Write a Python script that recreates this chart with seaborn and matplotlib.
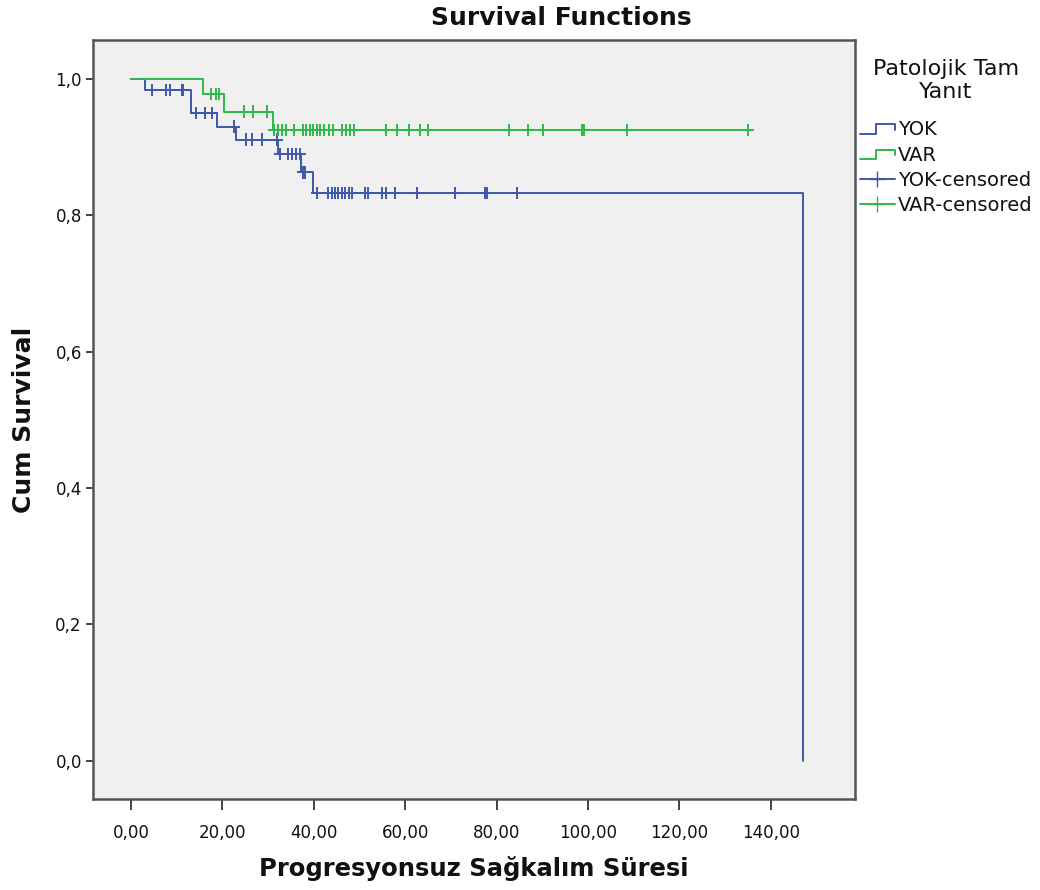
import numpy as np
import pandas as pd
import matplotlib
matplotlib.use("Agg")
import matplotlib.pyplot as plt
import seaborn as sns
from matplotlib.legend_handler import HandlerBase
from matplotlib.lines import Line2D
from matplotlib.ticker import FuncFormatter

# Step points of the Kaplan-Meier curves
yok_times = [0.0, 3.1, 13.1, 18.9, 23.0, 32.2, 37.3, 39.8, 147.0]
yok_surv = [1.0, 0.984, 0.950, 0.930, 0.911, 0.890, 0.863, 0.833, 0.0]
var_times = [0.0, 15.7, 20.4, 31.0, 135.0]
var_surv = [1.0, 0.978, 0.952, 0.925, 0.925]

# censored observations
yok_cens = [4.7, 7.7, 8.5, 11.1, 11.5, 14.2, 16.2, 17.7, 22.6, 25.2, 26.4, 28.6,
            31.9, 32.6, 34.4, 35.2, 36.1, 37.0, 37.7, 38.1, 40.8, 43.2, 43.9, 44.6,
            45.4, 46.1, 46.8, 47.6, 48.3, 51.2, 51.9, 54.9, 55.8, 57.8, 62.5, 71.0,
            77.4, 77.8, 84.5]
var_cens = [17.6, 18.7, 19.3, 24.8, 26.6, 29.7, 31.3, 32.2, 33.0, 33.9, 35.7, 37.7,
            38.4, 39.2, 39.9, 40.6, 41.4, 42.2, 43.4, 44.3, 46.1, 47.0, 47.9, 48.8,
            55.9, 58.3, 60.9, 63.2, 65.1, 82.8, 86.8, 90.1, 98.6, 99.1, 108.5, 135.0]

groups = ["YOK", "VAR"]
colors = {"YOK": "#3E58AC", "VAR": "#2EB848"}


def level_at(times, surv, t):
    idx = np.searchsorted(times, t, side="right") - 1
    return surv[idx]


curves = pd.concat([
    pd.DataFrame({"time": yok_times, "surv": yok_surv, "grp": "YOK"}),
    pd.DataFrame({"time": var_times, "surv": var_surv, "grp": "VAR"}),
])
cens = pd.concat([
    pd.DataFrame({"time": yok_cens, "surv": [level_at(yok_times, yok_surv, t) for t in yok_cens], "grp": "YOK"}),
    pd.DataFrame({"time": var_cens, "surv": [level_at(var_times, var_surv, t) for t in var_cens], "grp": "VAR"}),
])

sns.set_style("white")
plt.rcParams["font.family"] = ["DejaVu Sans"]
plt.rcParams["text.color"] = "#111111"

fig = plt.figure(figsize=(10.4, 8.9), dpi=100)
ax = fig.add_axes([0.0894, 0.1022, 0.7327, 0.8528])
ax.set_facecolor("#F0F0F0")

sns.lineplot(data=curves, x="time", y="surv", hue="grp", palette=colors,
             drawstyle="steps-post", estimator=None, sort=False, legend=False,
             linewidth=1.4, ax=ax)
sns.scatterplot(data=cens, x="time", y="surv", hue="grp", palette=colors,
                marker="+", s=80, linewidth=1.4, legend=False, ax=ax, zorder=3)

ax.set_xlim(-8.3, 158.4)
ax.set_ylim(-0.056, 1.057)
ax.set_xticks(np.arange(0, 141, 20))
ax.set_yticks(np.arange(0, 1.01, 0.2))
ax.xaxis.set_major_formatter(FuncFormatter(lambda v, p: f"{v:.2f}".replace(".", ",")))
ax.yaxis.set_major_formatter(FuncFormatter(lambda v, p: f"{v:.1f}".replace(".", ",")))
ax.tick_params(axis="x", direction="out", length=8, width=1.2, color="#222222",
               labelsize=12, labelcolor="#111111", pad=10, bottom=True)
ax.tick_params(axis="y", direction="out", length=5, width=1.2, color="#222222",
               labelsize=12, labelcolor="#111111", pad=3, left=True)
for sp in ax.spines.values():
    sp.set_color("#555555")
    sp.set_linewidth(1.8)

ax.set_xlabel("Progresyonsuz Sağkalım Süresi", fontsize=17.5, fontweight="bold",
              labelpad=10, color="#111111")
ax.set_ylabel("Cum Survival", fontsize=18, fontweight="bold", labelpad=14,
              color="#111111")
fig.text(0.54, 0.98, "Survival Functions", ha="center", va="center",
         fontsize=18, fontweight="bold")


class StepHandler(HandlerBase):
    def create_artists(self, legend, orig_handle, xdescent, ydescent, width, height, fontsize, trans):
        x0, y0 = -xdescent, -ydescent
        xs = [x0, x0 + 0.45 * width, x0 + 0.45 * width, x0 + width, x0 + width]
        ys = [y0 + 0.1 * height, y0 + 0.1 * height, y0 + 0.8 * height,
              y0 + 0.8 * height, y0 + 0.4 * height]
        ln = Line2D(xs, ys, color=orig_handle.get_color(), linewidth=1.4)
        ln.set_transform(trans)
        return [ln]


class StepLine(Line2D):
    pass


handles = [
    StepLine([], [], color=colors["YOK"]),
    StepLine([], [], color=colors["VAR"]),
    Line2D([], [], color=colors["YOK"], marker="+", markersize=12, linewidth=1.4),
    Line2D([], [], color=colors["VAR"], marker="+", markersize=12, linewidth=1.4),
]
labels = ["YOK", "VAR", "YOK-censored", "VAR-censored"]
leg = fig.legend(handles, labels, loc="upper left", bbox_to_anchor=(0.823, 0.938),
                 frameon=False, fontsize=14, title="Patolojik Tam\nYanıt",
                 title_fontsize=16, handlelength=1.8, handletextpad=0.15,
                 labelspacing=0.32, borderaxespad=0.0, borderpad=0.2,
                 handler_map={StepLine: StepHandler()})
leg.get_title().set_multialignment("center")
leg._legend_box.sep = 13

fig.savefig("out.png", dpi=100, facecolor="white")
